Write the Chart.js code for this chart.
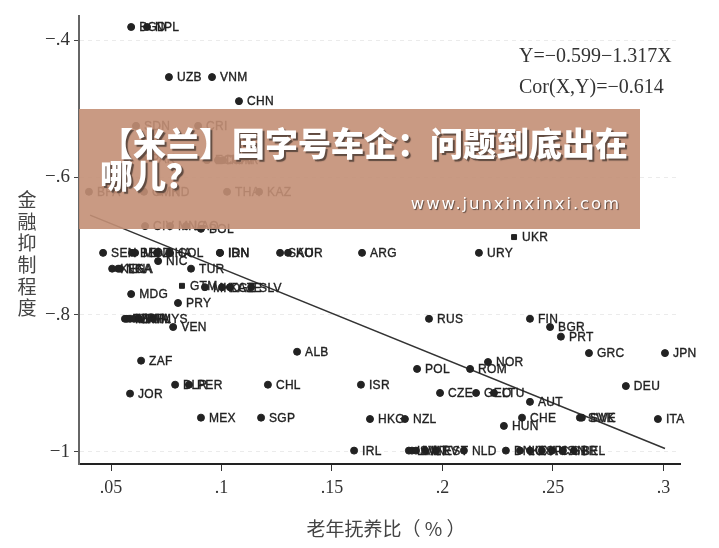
<!DOCTYPE html>
<html>
<head>
<meta charset="utf-8">
<script src="https://cdn.jsdelivr.net/npm/chart.js@4"></script>
<style>
  body { margin: 0; background: #fff; }
  #wrap { position: relative; width: 719px; height: 548px; overflow: hidden; }
  #myChart { filter: blur(0.45px); }
  #banner { position: absolute; left: 79px; top: 109px; width: 561px; height: 120px; background: rgba(195,143,118,.9); }
  #headline { position: absolute; left: 21px; top: 17px; width: 535px; font: 900 33px/32px "Noto Sans CJK SC"; color: #fff; text-shadow: 2px 2px 1px #5f4a40; }
  #site { position: absolute; right: 19px; top: 85px; font: 16.5px "DejaVu Sans"; letter-spacing: 1.9px; color: #fff; text-shadow: 1px 1px 1px #5f4a40; }
</style>
</head>
<body>
<div id="wrap">
  <canvas id="myChart" width="719" height="548"></canvas>
  <div id="banner">
    <div id="headline">【米兰】国字号车企：问题到底出在哪儿？</div>
    <div id="site">www.junxinxinxi.com</div>
  </div>
</div>
<script>
// country codes, the overlapped ones are best guesses
var codes = ["BGD","NPL","UZB","VNM","CHN","SDN","CRI","PAK","ECU","DOM","MAR","BFA","CMR","IND","THA","KAZ","CIV","MNG","LAO","BOL",
  "UKR","SEN","BEN","MOZ","GHA","COL","IDN","IRN","SAU","KOR","ARG","URY","NIC","KEN","NGA","LKA","TUR","GTM","MKD","KGZ","AZE","SLV",
  "MDG","PRY","TZA","MWI","MRT","BWA","PHL","MYS","VEN","RUS","FIN","BGR","PRT","ALB","GRC","JPN","ZAF","NOR","POL","ROM",
  "BLR","PER","CHL","ISR","DEU","JOR","CZE","GEO","LTU","AUT","MEX","SGP","HKG","NZL","CHE","SWE","SVK","ITA","HUN",
  "IRL","LVA","SVN","MLT","HRV","EST","NLD","DNK","LUX","ESP","AUS","CAN","GBR","BEL"];
var elderly = [.0591,.0663,.0762,.0957,.1079,.0613,.0894,.0645,.0934,.0984,.1007,.0400,.0649,.0722,.1025,.1170,.0654,.0767,.0839,.0907,
  .2324,.0464,.0595,.0609,.0708,.0767,.0993,.0993,.1265,.1301,.1636,.2165,.0713,.0505,.0532,.0541,.0862,.0821,.0925,.1002,.1038,.1134,
  .0591,.0803,.0563,.0572,.0586,.0604,.0627,.0690,.0781,.1939,.2396,.2487,.2536,.1342,.2663,.3007,.0636,.2206,.1885,.2125,
  .0790,.0853,.1210,.1631,.2830,.0586,.1989,.2152,.2233,.2396,.0907,.1179,.1672,.1830,.2360,.2622,.2631,.2975,.2278,
  .1600,.1848,.1862,.1880,.1921,.1971,.2097,.2287,.2351,.2396,.2450,.2496,.2545,.2595];
var repression = [-.381,-.381,-.454,-.454,-.489,-.525,-.525,-.573,-.575,-.575,-.575,-.621,-.621,-.621,-.621,-.621,-.671,-.671,-.671,-.675,
  -.687,-.710,-.710,-.710,-.710,-.710,-.710,-.710,-.710,-.710,-.710,-.710,-.722,-.733,-.733,-.733,-.733,-.758,-.760,-.760,-.760,-.760,
  -.770,-.783,-.806,-.806,-.806,-.806,-.806,-.806,-.818,-.806,-.806,-.818,-.832,-.854,-.856,-.856,-.867,-.869,-.879,-.879,
  -.902,-.902,-.902,-.902,-.904,-.915,-.914,-.914,-.914,-.927,-.950,-.950,-.952,-.952,-.950,-.950,-.950,-.952,-.962,
  -.998,-.998,-.998,-.998,-.998,-.998,-.998,-.998,-.998,-.998,-.998,-.998,-.998,-.998];
var squareCodes = ["UKR","GTM"];

var fitX = [.0405,.3007];
var fitY = [-.655,-.995];

var xTicks = [.05,.1,.15,.2,.25,.3];
var xTickLabels = [".05",".1",".15",".2",".25",".3"];
var yTicks = [-.4,-.6,-.8,-1];
var yTickLabels = ["−.4","−.6","−.8","−1"];

var xTitle = "老年抚养比（ % ）";
var yTitle = ["金","融","抑","制","程","度"];
var formulaLines = ["Y=−0.599−1.317X","Cor(X,Y)=−0.614"];

var points = codes.map(function(c,i){ return {x:elderly[i], y:repression[i]}; });
var fitLine = fitX.map(function(v,i){ return {x:v, y:fitY[i]}; });

// country codes next to the points, formula and the axis titles
var textPlugin = {
  id: 'chartText',
  afterDatasetsDraw: function(chart) {
    var ctx = chart.ctx;
    ctx.save();
    ctx.textBaseline = 'middle';
    ctx.textAlign = 'left';
    ctx.fillStyle = '#222';
    ctx.strokeStyle = '#222';
    ctx.lineWidth = .35;
    ctx.letterSpacing = '.3px';
    ctx.font = '12px "Liberation Sans"';
    chart.getDatasetMeta(0).data.forEach(function(el,i){
      ctx.fillText(codes[i], el.x+8, el.y+1);
      ctx.strokeText(codes[i], el.x+8, el.y+1);
    });
    ctx.letterSpacing = '0px';
    ctx.fillStyle = '#333';
    ctx.font = '20px "Liberation Serif"';
    formulaLines.forEach(function(t,i){
      ctx.fillText(t, 519, 57+i*31);
    });
    ctx.textAlign = 'center';
    ctx.fillStyle = '#444';
    ctx.font = '19px "Noto Sans CJK SC"';
    yTitle.forEach(function(t,i){
      ctx.fillText(t, 27, 200+i*21.6);
    });
    ctx.fillText(xTitle, 386, 529);
    ctx.restore();
  }
};

new Chart(document.getElementById("myChart"), {
  type: 'scatter',
  data: {
    datasets: [
      {
        label: "countries",
        data: points,
        backgroundColor: '#222',
        borderColor: '#222',
        pointRadius: 3.5,
        pointStyle: function(c){ return squareCodes.indexOf(codes[c.dataIndex])>=0 ? 'rect' : 'circle'; }
      },
      {
        label: "fit",
        data: fitLine,
        showLine: true,
        pointRadius: 0,
        borderColor: '#333',
        borderWidth: 1.5
      }
    ]
  },
  plugins: [textPlugin],
  options: {
    responsive: false,
    animation: false,
    layout: { padding: { top: 16, right: 39 } },
    plugins: { legend: { display: false }, tooltip: { enabled: false } },
    scales: {
      x: {
        type: 'linear',
        min: .0355,
        max: .3075,
        afterBuildTicks: function(s){ s.ticks = xTicks.map(function(v){ return {value:v}; }); },
        afterFit: function(s){ s.height = 84; },
        border: { color: '#222', width: 2 },
        grid: { drawOnChartArea: false, tickLength: 7, tickColor: '#333' },
        ticks: {
          padding: 6,
          maxRotation: 0,
          color: '#333',
          font: { family: '"Liberation Serif"', size: 18 },
          callback: function(v){ return xTickLabels[xTicks.indexOf(v)]; }
        }
      },
      y: {
        type: 'linear',
        min: -1.0175,
        max: -.365,
        afterBuildTicks: function(s){ s.ticks = yTicks.map(function(v){ return {value:v}; }); },
        afterFit: function(s){ s.width = 79; },
        border: { color: '#666', width: 2, dash: [4,4] },
        grid: { color: 'rgba(0,0,0,.08)', tickColor: '#444', tickLength: 5, tickBorderDash: [] },
        ticks: {
          padding: 4,
          color: '#333',
          font: { family: '"Liberation Serif"', size: 19 },
          callback: function(v){ return yTickLabels[yTicks.indexOf(v)]; }
        }
      }
    }
  }
});
</script>
</body>
</html>
